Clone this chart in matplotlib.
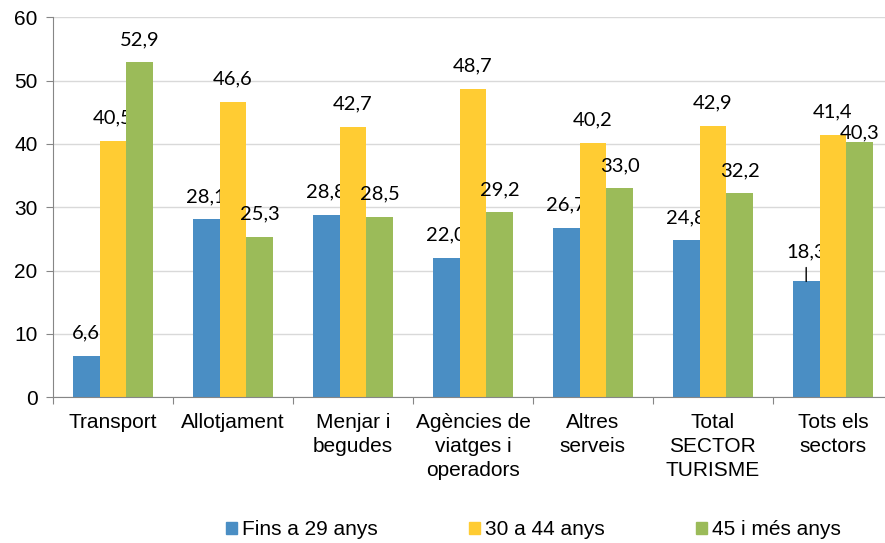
"""
Grouped bar chart: share by age group per tourism sector.
"""
import matplotlib
matplotlib.use("Agg")
import matplotlib.pyplot as plt
import numpy as np

categories = ["Transport", "Allotjament", "Menjar i\nbegudes",
              "Agències de\nviatges i\noperadors", "Altres\nserveis",
              "Total\nSECTOR\nTURISME", "Tots els\nsectors"]
series_names = ["Fins a 29 anys", "30 a 44 anys", "45 i més anys"]
young = [6.6, 28.1, 28.8, 22.0, 26.7, 24.8, 18.3]
middle = [40.5, 46.6, 42.7, 48.7, 40.2, 42.9, 41.4]
older = [52.9, 25.3, 28.5, 29.2, 33.0, 32.2, 40.3]

COLORS = ["#4A8EC4", "#FFCC33", "#9BBB59"]
LABEL_FONT = "Lato"
AXIS_FONT = "Liberation Sans"

# label offsets (points) where Excel moved labels to avoid overlaps
SPECIAL = {(0, 6): 17.5, (2, 6): 3}


def fmt(v):
    return f"{v:.1f}".replace(".", ",")


fig = plt.figure(figsize=(8.85, 5.43), dpi=100)
ax = fig.add_axes([0.0599, 0.2683, 0.949, 0.6998])

x = np.arange(len(categories))
width = 0.2225
offsets = [-width, 0, width]

for si, (vals, off, col) in enumerate(zip([young, middle, older], offsets, COLORS)):
    ax.bar(x + off, vals, width, color=col, zorder=3)
    for ci, (xi, v) in enumerate(zip(x + off, vals)):
        dy = SPECIAL.get((si, ci), 12.5)
        if (si, ci) == (0, 6):
            ax.annotate("", xy=(xi, v), xytext=(0, 10), textcoords="offset points",
                        arrowprops=dict(arrowstyle="-", color="black", lw=1,
                                        shrinkA=0, shrinkB=0))
        ax.annotate(fmt(v), xy=(xi, v), xytext=(0, dy), textcoords="offset points",
                    ha="center", va="baseline", fontsize=14.5, family=LABEL_FONT)

ax.set_ylim(0, 60)
ax.set_yticks(np.arange(0, 61, 10))
ax.set_xlim(-0.5, len(categories) - 0.5)

# ticks at category boundaries, labels at centres
ax.set_xticks(np.arange(-0.5, len(categories)), minor=False)
ax.set_xticklabels([])
ax.set_xticks(x, minor=True)
ax.set_xticklabels(categories, minor=True, fontsize=15, family=AXIS_FONT,
                   va="top", linespacing=1.35)
ax.tick_params(axis="x", which="minor", length=0, pad=11)
ax.tick_params(axis="x", which="major", length=5, color="#868686")
ax.tick_params(axis="y", length=5, color="#868686", labelsize=15, pad=6)
for lab in ax.get_yticklabels():
    lab.set_family(AXIS_FONT)

ax.grid(axis="y", color="#D9D9D9", lw=1, zorder=0)
for side in ["top", "right"]:
    ax.spines[side].set_visible(False)
for side in ["left", "bottom"]:
    ax.spines[side].set_color("#868686")
    ax.spines[side].set_zorder(4)

handles = [plt.Rectangle((0, 0), 1, 1, color=c) for c in COLORS]
fig.legend(handles, series_names, loc="center", bbox_to_anchor=(0.603, 0.024),
           ncol=3, frameon=False, handlelength=0.5, handleheight=0.5,
           handletextpad=0.25, columnspacing=4.4, borderpad=0,
           prop={"family": AXIS_FONT, "size": 15})

plt.savefig("out.png", dpi=100)
